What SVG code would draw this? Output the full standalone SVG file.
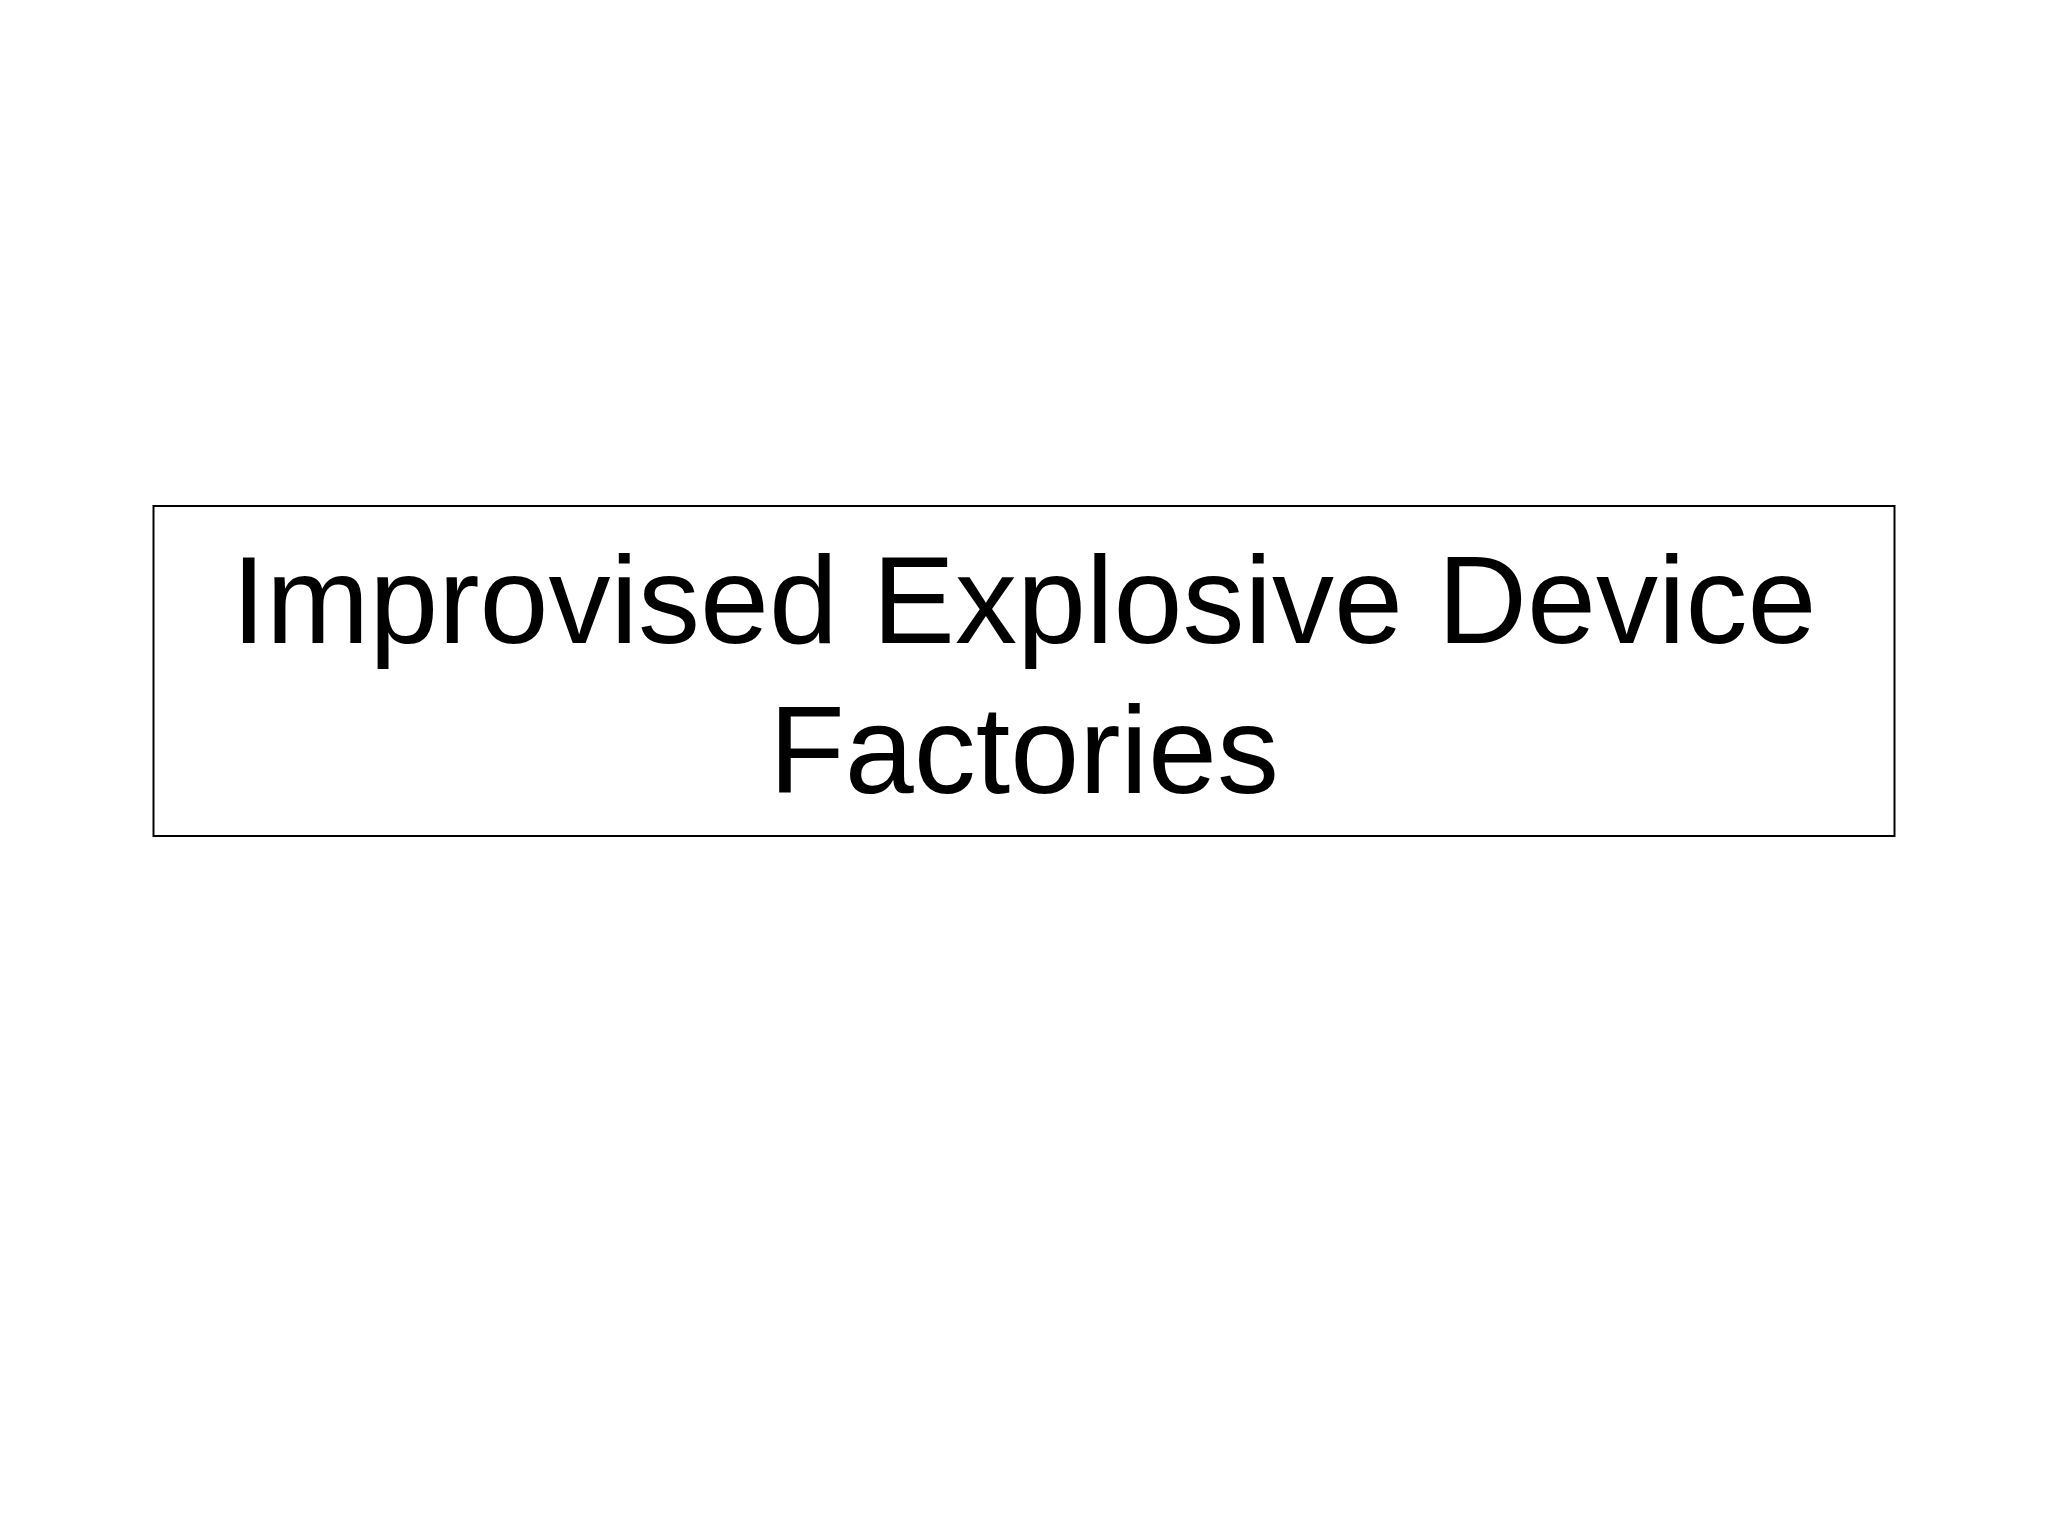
<svg xmlns="http://www.w3.org/2000/svg" width="2048" height="1536" viewBox="0 0 2048 1536">
<rect width="2048" height="1536" fill="#fff"/>
<g id="title">
<rect x="153.5" y="506" width="1741" height="330" fill="none" stroke="#000" stroke-width="2"/>
<text x="1024" font-family="Liberation Sans, Arial, sans-serif" font-size="124" text-anchor="middle" fill="#000"><tspan x="1024" y="643">Improvised Explosive Device</tspan><tspan x="1024" y="793">Factories</tspan></text>
</g>
</svg>
